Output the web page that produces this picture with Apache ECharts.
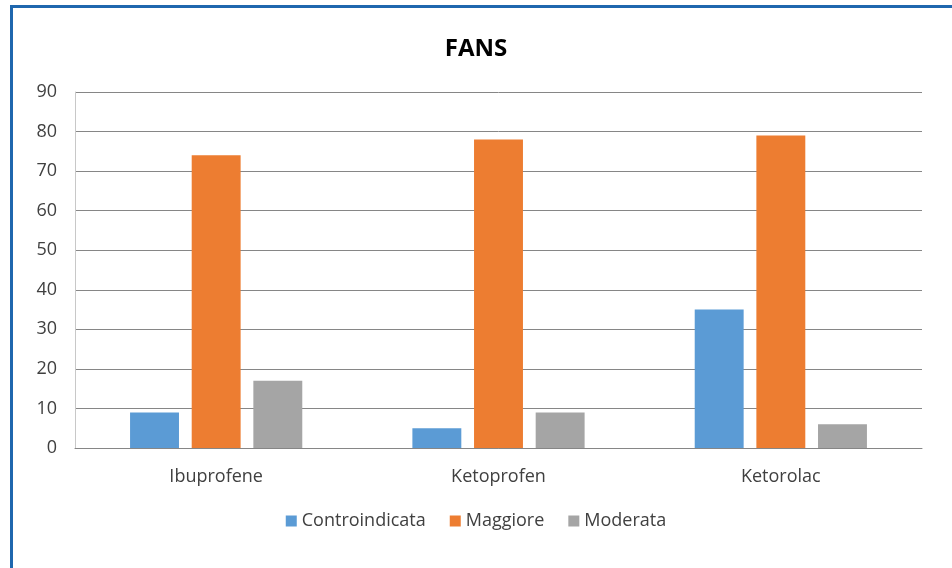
<!DOCTYPE html>
<html>
<head>
<meta charset="utf-8">
<title>FANS</title>
<script src="https://cdn.jsdelivr.net/npm/echarts@6/dist/echarts.min.js"></script>
<style>
    html, body { margin: 0; padding: 0; background: #fff; }
    #main { width: 952px; height: 568px; }
</style>
</head>
<body>
<div id="main"></div>
<script>
    // dati
    var categories = ['Ibuprofene', 'Ketoprofen', 'Ketorolac'];
    var controindicata = [9, 5, 35];
    var maggiore = [74, 78, 79];
    var moderata = [17, 9, 6];

    var myChart = echarts.init(document.getElementById('main'));
    var font = '"Open Sans", sans-serif';

    var option = {
        animation: false,
        color: ['#5B9BD5', '#ED7D31', '#A5A5A5'],
        title: {
            text: 'FANS',
            left: 'center',
            top: 32,
            textStyle: { fontFamily: font, fontSize: 24, fontWeight: 'bold', color: '#000' }
        },
        // bordo blu del riquadro
        graphic: [{
            type: 'rect',
            shape: { x: 11.5, y: 6.5, width: 960, height: 580 },
            style: { fill: 'none', stroke: '#1F67AE', lineWidth: 3 },
            silent: true
        }],
        legend: {
            data: ['Controindicata', 'Maggiore', 'Moderata'],
            bottom: 33,
            left: 'center',
            icon: 'rect',
            itemWidth: 11,
            itemHeight: 11,
            itemGap: 24,
            textStyle: { fontFamily: font, fontSize: 18, color: '#404040' }
        },
        grid: {
            left: 75,
            right: 30,
            top: 92,
            bottom: 120
        },
        xAxis: {
            type: 'category',
            data: categories,
            axisLine: { lineStyle: { color: '#868686' } },
            axisTick: { show: false },
            axisLabel: { fontFamily: font, fontSize: 18, color: '#404040', margin: 20 }
        },
        yAxis: {
            type: 'value',
            min: 0,
            max: 90,
            interval: 10,
            axisLine: { show: true, lineStyle: { color: '#C8C8C8' } },
            axisTick: { show: false },
            axisLabel: { fontFamily: font, fontSize: 18, color: '#404040', margin: 18 },
            splitLine: { lineStyle: { color: '#868686', width: 1 } }
        },
        series: [
            {
                name: 'Controindicata',
                type: 'bar',
                barGap: '26%',
                barCategoryGap: '39%',
                data: controindicata
            },
            {
                name: 'Maggiore',
                type: 'bar',
                data: maggiore
            },
            {
                name: 'Moderata',
                type: 'bar',
                data: moderata
            }
        ]
    };

    myChart.setOption(option);
</script>
</body>
</html>
